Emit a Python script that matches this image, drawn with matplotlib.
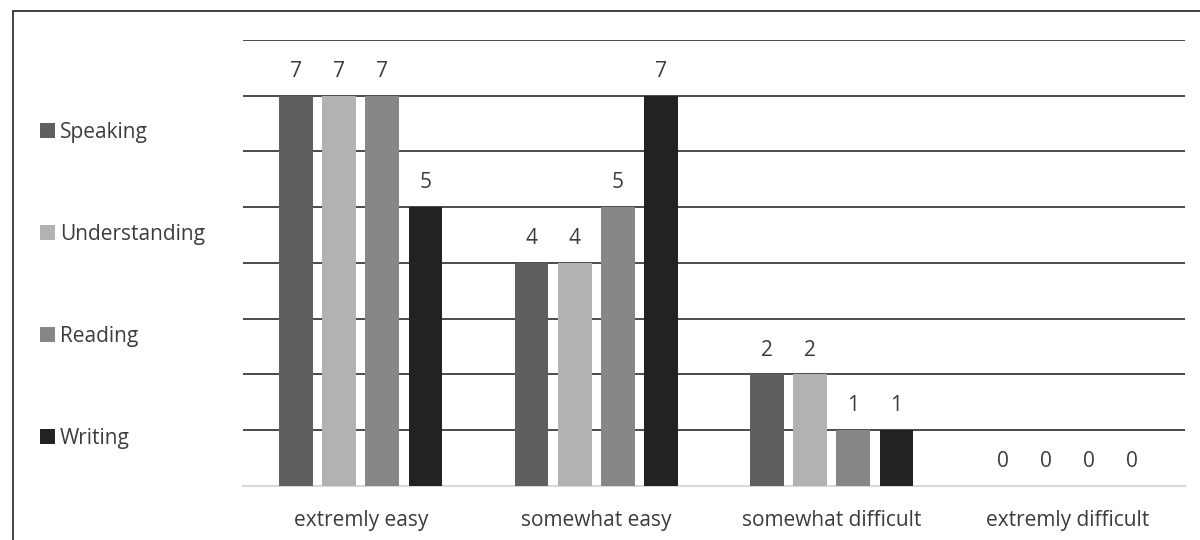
import numpy as np
import matplotlib
matplotlib.use("Agg")
import matplotlib.pyplot as plt
from matplotlib.patches import Rectangle, Patch

categories = ["extremly easy", "somewhat easy", "somewhat difficult", "extremly difficult"]
series = ["Speaking", "Understanding", "Reading", "Writing"]
speaking = [7, 4, 2, 0]
understanding = [7, 4, 2, 0]
reading = [7, 5, 1, 0]
writing = [5, 7, 1, 0]

COLORS = ["#5f5f5f", "#b2b2b2", "#878787", "#222222"]
TEXT = "#3c3c3c"
FS = 15

plt.rcParams["font.family"] = ["Open Sans", "DejaVu Sans"]

fig = plt.figure(figsize=(12, 5.4), dpi=100)
ax = fig.add_axes([0.2025, 0.1, 0.785, 0.826])

x = np.arange(len(categories))
width = 0.143
step = 0.183
for i, (name, vals) in enumerate(zip(series, [speaking, understanding, reading, writing])):
    bars = ax.bar(x + (i - 1.5) * step, vals, width, color=COLORS[i], label=name, zorder=3)
    ax.bar_label(bars, padding=10, fontsize=FS, color=TEXT)

ax.set_xlim(-0.5, len(categories) - 0.5)
ax.set_ylim(0, 8)
ax.set_yticks(np.arange(1, 9))
ax.yaxis.grid(True, color="#1a1a1a", linewidth=1.1, zorder=0)
ax.tick_params(axis="y", left=False, labelleft=False)
ax.set_xticks(x, categories)
ax.tick_params(axis="x", length=0, pad=17, labelsize=FS, labelcolor=TEXT)
for side in ["top", "right", "left"]:
    ax.spines[side].set_visible(False)
ax.spines["bottom"].set_color("#d9d9d9")
ax.spines["bottom"].set_linewidth(1.5)
ax.set_axisbelow(True)

# legend column on the left
handles = [Patch(facecolor=c, edgecolor="none") for c in COLORS]
fig.legend(handles, series, loc="upper left", bbox_to_anchor=(0.0265, 0.79),
           frameon=False, fontsize=FS, labelcolor=TEXT,
           handlelength=0.72, handleheight=0.72, handletextpad=0.22,
           labelspacing=3.89, borderaxespad=0)

# outer frame
fig.patches.append(Rectangle((0.0105, -0.05), 1.1, 1.03, transform=fig.transFigure,
                             fill=False, edgecolor="#222222", linewidth=1.2))

fig.savefig("out.png", dpi=100, facecolor="white")
